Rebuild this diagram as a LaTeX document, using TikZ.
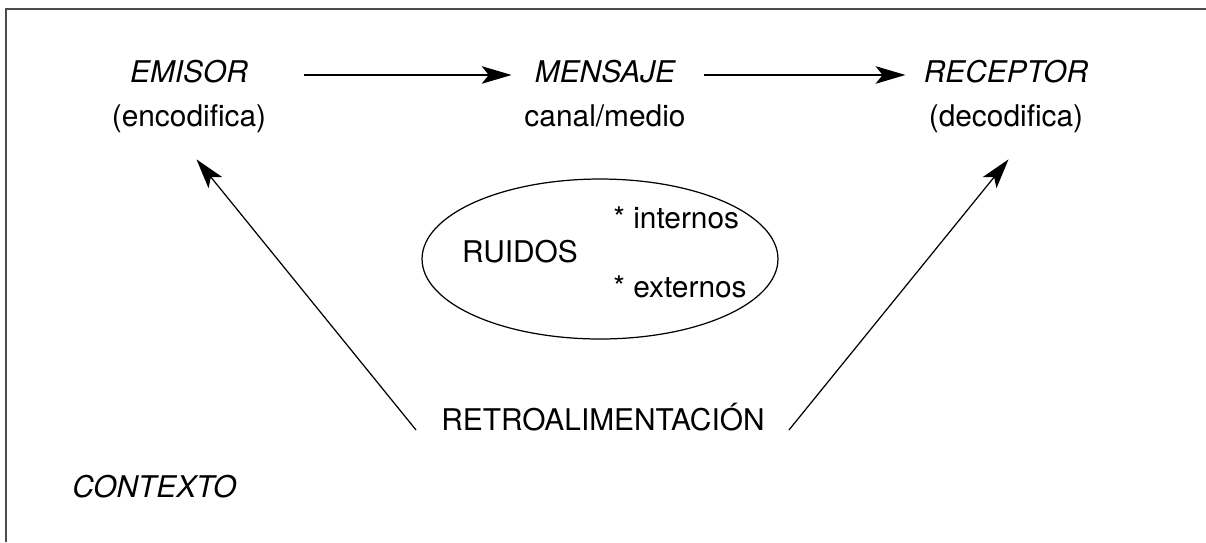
\documentclass[tikz,border=0pt]{standalone}
\usepackage{fontspec}
\setmainfont{TeX Gyre Heros}
\usepackage{tikz}
\usetikzlibrary{arrows.meta,shapes.geometric}

\begin{document}
\begin{tikzpicture}[x=0.02cm, y=-0.02cm, node distance=0.9cm,
    txt/.style={inner sep=0pt, text height=12pt, text depth=4pt, font=\fontsize{17}{20}\selectfont},
    tit/.style={txt, font=\fontsize{17}{20}\selectfont\itshape},
    arr/.style={line width=0.7pt, -{Stealth[length=17pt, width=10pt, inset=4pt]}}]
    \useasboundingbox (0,0) rectangle (1206,542);
    \draw[line width=1pt, black!70] (6,542) -- (6,9) -- (1206,9);

    \node[tit, anchor=base] (emisor) at (189,82) {EMISOR};
    \node[txt, below of=emisor] (encod) {(encodifica)};
    \node[tit, anchor=base] (mensaje) at (605,82) {MENSAJE};
    \node[txt, below of=mensaje] (canal) {canal/medio};
    \node[tit, anchor=base] (receptor) at (1006,82) {RECEPTOR};
    \node[txt, below of=receptor] (decod) {(decodifica)};

    \node[draw, line width=0.7pt, ellipse, minimum width=7.12cm, minimum height=3.2cm, inner sep=0pt] (nube) at (600,259) {};
    \node[txt, anchor=base] (ruidos) at (520,262) {RUIDOS};
    \node[txt, anchor=base west] (internos) at (613,228) {* internos};
    \node[txt, anchor=base west] (externos) at (613,297) {* externos};

    \node[txt, anchor=base] (retro) at (603,430) {RETROALIMENTACIÓN};
    \node[tit, anchor=base west] (contexto) at (72,497) {CONTEXTO};

    \draw[arr, shorten <=1.12cm, shorten >=0.46cm] (emisor) -- (mensaje);
    \draw[arr, shorten <=0.58cm, shorten >=0.36cm] (mensaje) -- (receptor);
    \draw[arr] ([xshift=-0.5cm]retro.base west) -- ([xshift=0.15cm, yshift=-0.5cm]encod.south);
    \draw[arr] ([xshift=0.48cm]retro.base east) -- ([xshift=0.05cm, yshift=-0.5cm]decod.south);
\end{tikzpicture}
\end{document}
